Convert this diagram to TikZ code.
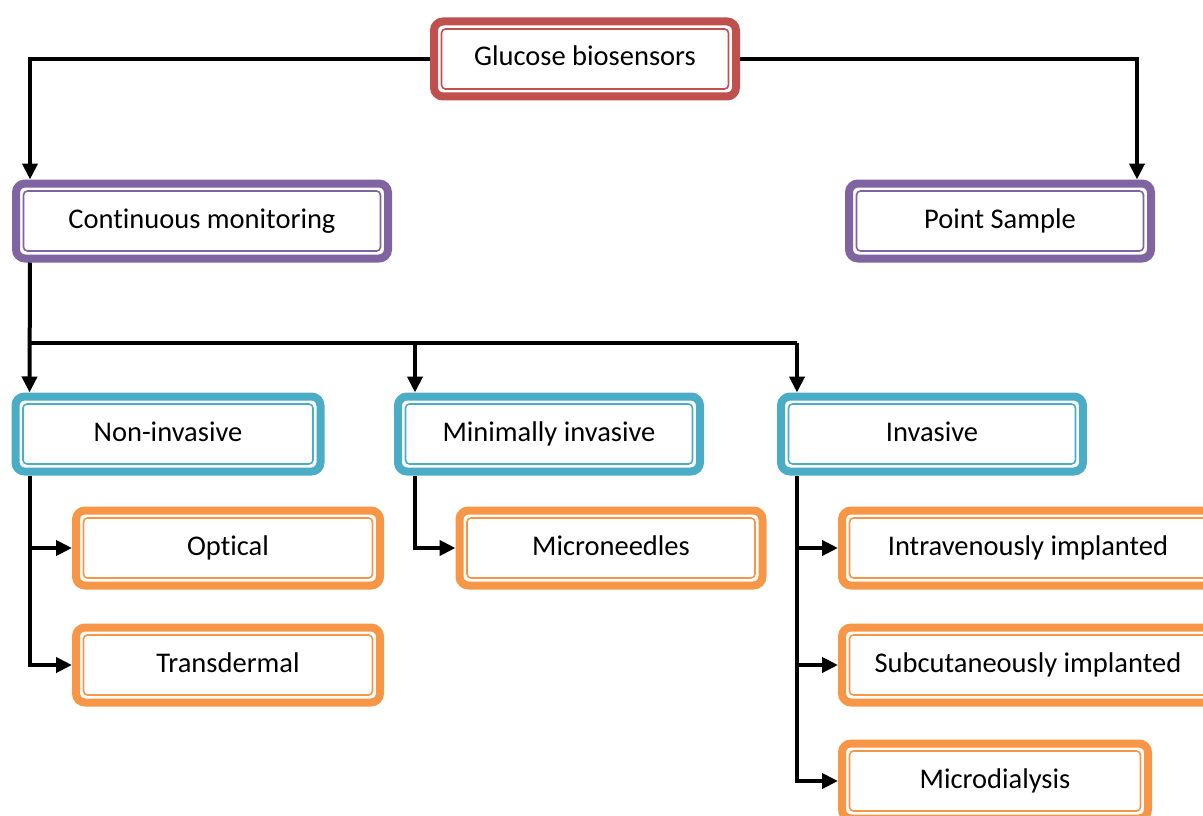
\documentclass[tikz,border=0pt]{standalone}
\usepackage{fontspec}
\setmainfont{Carlito}[RawFeature={-liga;-clig;-dlig}]
\usetikzlibrary{arrows.meta}

\definecolor{topred}{HTML}{C0504D}
\definecolor{midpurple}{HTML}{8064A2}
\definecolor{kindblue}{HTML}{4BACC6}
\definecolor{leaforange}{HTML}{F79646}

\tikzset{
  box/.style={draw=#1, line width=8pt, rounded corners=9pt, fill=white,
    minimum width=302pt, minimum height=75pt, align=center,
    font=\fontsize{28.5}{34}\selectfont, text height=20pt, text depth=6pt,
    path picture={\draw[#1, line width=1.6pt, rounded corners=4pt]
      ([shift={(7.5pt,7.5pt)}]path picture bounding box.south west) rectangle
      ([shift={(-7.5pt,-7.5pt)}]path picture bounding box.north east);}},
  line/.style={draw=black, line width=4pt},
  link/.style={line, -{Triangle[length=16pt,width=15pt]}}
}

\begin{document}
\begin{tikzpicture}[x=1pt,y=-1pt]
\useasboundingbox (0,0) rectangle (1203,816);

\node[box=topred] (glucose) at (585,59) {Glucose biosensors};

\node[box=midpurple, minimum width=372pt] (contmon) at (202,221) {Continuous monitoring};
\node[box=midpurple] (point) at (1000,221) {Point Sample};

\node[box=kindblue, minimum width=305pt] (noninv) at (168,434) {Non-invasive};
\node[box=kindblue] (mininv) at (549,434) {Minimally invasive};
\node[box=kindblue] (inv) at (932,434) {Invasive};

\node[box=leaforange, minimum width=304pt] (optical) at (228,548) {Optical};
\node[box=leaforange, minimum width=304pt] (transderm) at (228,665) {Transdermal};
\node[box=leaforange, minimum width=303pt] (microneedle) at (611,548) {Microneedles};
\node[box=leaforange, minimum width=372pt] (intraven) at (1028,548) {Intravenously implanted};
\node[box=leaforange, minimum width=372pt] (subcut) at (1028,665) {Subcutaneously implanted};
\node[box=leaforange, minimum width=306pt] (microdial) at (995,781) {Microdialysis};

% top level
\draw[link] (glucose.west) -| ([xshift=18pt]contmon.north west);
\draw[link] (glucose.east) -| ([xshift=-18pt]point.north east);

% fork under continuous monitoring
\coordinate (fork) at ([xshift=18pt,yshift=-80pt]contmon.south west);
\draw[link] ([xshift=18pt]contmon.south west) -- ([xshift=18pt]noninv.north west);
\draw[line] (fork) -- (fork -| inv.north west) -- ++(20,0);
\draw[link] (fork -| mininv.north west) ++(21,0) -- ([xshift=21pt]mininv.north west);
\draw[link] (fork -| inv.north west) ++(20,0) -- ([xshift=20pt]inv.north west);

% leaves
\draw[link] ([xshift=18pt]noninv.south west) |- (transderm.west);
\draw[link] ([xshift=18pt]noninv.south west |- optical.west) -- (optical.west);
\draw[link] ([xshift=21pt]mininv.south west) |- (microneedle.west);
\draw[link] ([xshift=20pt]inv.south west) |- (microdial.west);
\draw[link] ([xshift=20pt]inv.south west |- intraven.west) -- (intraven.west);
\draw[link] ([xshift=20pt]inv.south west |- subcut.west) -- (subcut.west);

\end{tikzpicture}
\end{document}
